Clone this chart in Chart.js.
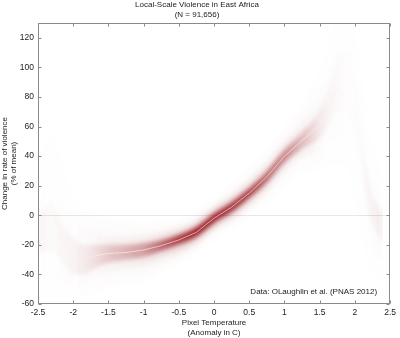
<!DOCTYPE html>
<html>
<head>
<meta charset="utf-8">
<script src="https://cdn.jsdelivr.net/npm/chart.js@4.4.1/dist/chart.umd.min.js"></script>
<style>
  html, body { margin: 0; padding: 0; background: #fff; }
  #wrap { width: 400px; height: 338px; }
</style>
</head>
<body>
<div id="wrap"><canvas id="chart"></canvas></div>
<script>
// pixel temperature anomaly (C)
const xs = [-2.5, -2.3, -2.15, -2.0, -1.85, -1.7, -1.5, -1.25, -1.0, -0.75, -0.5, -0.25, 0,
            0.25, 0.5, 0.75, 1.0, 1.25, 1.5, 1.62, 1.75, 1.9, 2.05, 2.2, 2.4];

// change in rate of violence (% of mean), central estimate
const median = [null, 2, -17, -29, -29.5, -27.5, -25.8, -25.2, -23.5, -20.5, -16.7, -11.5, -2,
                5.5, 15, 26, 40, 50.5, 61, 71, 86, null, null, null, null];

// spread of the resampled estimates, outer to inner
const outerHi = [35, 57, 35, 14, 5, 0, -4, -6, -8, -8, -7, -3, 6, 15, 26, 39, 55, 72, 95, 115, 135, 140, 110, 60, 25];
const outerLo = [-62, -62, -62, -60, -57, -52, -47, -44, -42, -35, -28, -20, -10, -4, 4, 13, 25, 32, 32, 34, 35, 30, -5, -35, -45];
const midHi = [15, 30, 15, 0, -8, -10, -14, -14, -15, -13, -11, -6.5, 2.5, 10.5, 21, 33, 48, 62, 82, 98, 115, 125, 90, 40, 10];
const midLo = [-45, -45, -47, -48, -47, -43, -38, -36, -33, -28, -23, -16, -6.5, 0.5, 9, 19, 32, 40, 42, 48, 52, 48, 20, -20, -35];
const innerHi = [0, 10, -5, -15, -20, -20, -20, -20, -19, -17, -13.5, -8.5, 0.5, 8.5, 18, 29.5, 44, 56, 71, 86, 106, 112, 78, 25, 0];
const innerLo = [-25, -25, -33, -40, -40, -36, -32, -30, -28, -24, -19.5, -14, -4.5, 2.5, 12, 22.5, 36, 45, 52, 60, 70, 68, 40, 0, -20];

const xTicks = [-2.5, -2, -1.5, -1, -0.5, 0, 0.5, 1, 1.5, 2, 2.5];
const yTicks = [-60, -40, -20, 0, 20, 40, 60, 80, 100, 120];

const FONT = "'Liberation Sans', Arial, Helvetica, sans-serif";
const RED = '140,0,10';
const TEXT = '#222';
const AXIS = '#8a8a8a';

function pts(ys) {
  return xs.map((x, i) => ({ x, y: ys[i] }));
}

// watercolor shading: the narrower the band, the darker the ink
function bandFill(lo, hi) {
  return (context) => {
    const chart = context.chart;
    const area = chart.chartArea;
    const sx = chart.scales.x;
    if (!area || !sx) return 'rgba(0,0,0,0)';
    const g = chart.ctx.createLinearGradient(area.left, 0, area.right, 0);
    xs.forEach((x, i) => {
      const w = Math.abs(hi[i] - lo[i]);
      const a = Math.min(0.8, Math.pow(5 / w, 2));
      let pos = (sx.getPixelForValue(x) - area.left) / (area.right - area.left);
      pos = Math.min(1, Math.max(0, pos));
      g.addColorStop(pos, `rgba(${RED},${a.toFixed(3)})`);
    });
    return g;
  };
}

function band(lo, hi, blur) {
  const common = {
    borderColor: 'rgba(0,0,0,0)',
    borderWidth: 0,
    pointRadius: 0,
    cubicInterpolationMode: 'monotone',
    blur
  };
  return [
    { ...common, data: pts(hi), fill: '+1', backgroundColor: bandFill(lo, hi) },
    { ...common, data: pts(lo), fill: false }
  ];
}

const datasets = [
  {
    data: pts(median),
    borderColor: 'rgba(255,236,236,0.7)',
    borderWidth: 0.9,
    pointRadius: 0,
    fill: false,
    tension: 0
  },
  ...band(innerLo, innerHi, 2),
  ...band(midLo, midHi, 3),
  ...band(outerLo, outerHi, 4)
];

const setBlur = (ctx, ds) => {
  ctx.filter = ds && ds.blur ? `blur(${ds.blur}px)` : 'none';
};

const frame = {
  id: 'frame',
  beforeDatasetsDraw(chart) {
    const ds = chart.data.datasets;
    chart.ctx.save();
    setBlur(chart.ctx, ds[ds.length - 1]);
  },
  afterDatasetDraw(chart, args) {
    setBlur(chart.ctx, chart.data.datasets[args.index - 1]);
  },
  afterDatasetsDraw(chart) {
    chart.ctx.restore();
  },
  afterDraw(chart) {
    const { ctx, chartArea: a, scales: { x, y } } = chart;
    const l = Math.round(a.left) + 0.5, r = Math.round(a.right) - 0.5;
    const t = Math.round(a.top) + 0.5, b = Math.round(a.bottom) - 0.5;
    ctx.save();
    ctx.strokeStyle = AXIS;
    ctx.lineWidth = 1;
    ctx.strokeRect(l, t, r - l, b - t);
    ctx.beginPath();
    xTicks.forEach(v => {
      const px = Math.round(x.getPixelForValue(v)) + 0.5;
      ctx.moveTo(px, b); ctx.lineTo(px, b - 3);
      ctx.moveTo(px, t); ctx.lineTo(px, t + 3);
    });
    yTicks.forEach(v => {
      const py = Math.round(y.getPixelForValue(v)) + 0.5;
      ctx.moveTo(l, py); ctx.lineTo(l + 3, py);
      ctx.moveTo(r, py); ctx.lineTo(r - 3, py);
    });
    ctx.stroke();
    ctx.fillStyle = TEXT;
    ctx.font = `8px ${FONT}`;
    ctx.textAlign = 'right';
    ctx.textBaseline = 'middle';
    ctx.fillText('Data: OLaughlin et al. (PNAS 2012)', a.right - 13, a.bottom - 12);
    ctx.restore();
  }
};

const tickFont = { family: FONT, size: 8.5 };

new Chart(document.getElementById('chart'), {
  type: 'line',
  data: { datasets },
  options: {
    responsive: true,
    maintainAspectRatio: false,
    animation: false,
    events: [],
    layout: { padding: { left: 0, right: 6, top: 0, bottom: 0 } },
    plugins: {
      legend: { display: false },
      tooltip: { enabled: false },
      title: {
        display: true,
        text: ['Local-Scale Violence in East Africa', '(N = 91,656)'],
        color: TEXT,
        font: { family: FONT, size: 8, weight: 'normal', lineHeight: 1.25 },
        padding: { top: 0, bottom: 3 }
      }
    },
    scales: {
      x: {
        type: 'linear',
        min: -2.5,
        max: 2.5,
        afterBuildTicks: ax => { ax.ticks = xTicks.map(value => ({ value })); },
        afterFit: s => { s.height = 34; },
        ticks: { callback: v => String(v), color: TEXT, font: tickFont, padding: 4, maxRotation: 0, autoSkip: false },
        grid: { display: false, drawTicks: false },
        border: { display: false },
        title: {
          display: true,
          text: ['Pixel Temperature', '(Anomaly in C)'],
          color: TEXT,
          font: { family: FONT, size: 8, weight: 'normal', lineHeight: 1.3 },
          padding: { top: 1, bottom: 0 }
        }
      },
      y: {
        type: 'linear',
        min: -60,
        max: 130,
        afterBuildTicks: ax => { ax.ticks = yTicks.map(value => ({ value })); },
        afterFit: s => { s.width = 38; },
        ticks: { callback: v => String(v), color: TEXT, font: tickFont, padding: 4, autoSkip: false },
        grid: {
          drawTicks: false,
          lineWidth: 1,
          color: c => (c.tick && c.tick.value === 0 ? '#e8e8e8' : 'rgba(0,0,0,0)')
        },
        border: { display: false },
        title: {
          display: true,
          text: ['Change in rate of violence', '(% of mean)'],
          color: TEXT,
          font: { family: FONT, size: 8, weight: 'normal', lineHeight: 1.15 },
          padding: { top: 0, bottom: 0 }
        }
      }
    }
  },
  plugins: [frame]
});
</script>
</body>
</html>
